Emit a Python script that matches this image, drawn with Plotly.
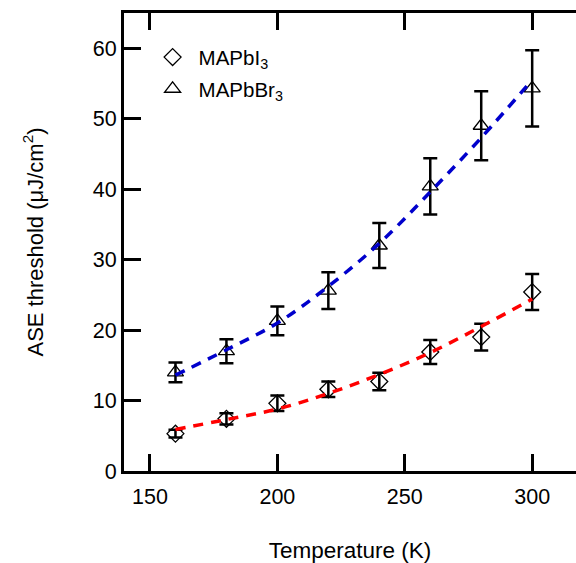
import plotly.graph_objects as go

# Temperature (K)
temperature = [160, 180, 200, 220, 240, 260, 280, 300]

# ASE threshold (uJ/cm^2) and uncertainties
mapbi3 = [5.3, 7.4, 9.6, 11.6, 12.7, 16.9, 19.0, 25.4]
mapbi3_err = [0.55, 0.8, 1.1, 1.1, 1.25, 1.7, 1.9, 2.55]
mapbbr3 = [14.0, 17.0, 21.3, 25.6, 32.0, 40.4, 49.0, 54.3]
mapbbr3_err = [1.4, 1.7, 2.05, 2.6, 3.2, 4.0, 4.9, 5.4]

# Fitted trend curves evaluated at the measured temperatures
fit_mapbi3 = [5.9, 7.3, 8.8, 11.0, 13.7, 16.8, 20.5, 24.4]
fit_mapbbr3 = [13.6, 17.2, 21.0, 26.2, 32.3, 39.6, 47.3, 55.5]

x_ticks = [150, 200, 250, 300]
y_ticks = [0, 10, 20, 30, 40, 50, 60]

FONT = "Liberation Sans, Arial, Helvetica, sans-serif"

fig = go.Figure()

fig.add_trace(go.Scatter(
    x=temperature, y=mapbi3, mode="markers", name="MAPbI<sub>3</sub>",
    legendgroup="i3",
    marker=dict(symbol="diamond-open", size=13, color="black", line=dict(width=1.3)),
    error_y=dict(type="data", array=mapbi3_err, color="black", thickness=2.5, width=7),
))
fig.add_trace(go.Scatter(
    x=temperature, y=mapbbr3, mode="markers", name="MAPbBr<sub>3</sub>",
    legendgroup="br3",
    marker=dict(symbol="triangle-up-open", size=14, color="black", line=dict(width=1.3)),
    error_y=dict(type="data", array=mapbbr3_err, color="black", thickness=2.5, width=7),
))
fig.add_trace(go.Scatter(
    x=temperature, y=fit_mapbi3, mode="lines", showlegend=False,
    line=dict(color="#ff0000", width=3.5, dash="10px,8px", shape="spline"),
))
fig.add_trace(go.Scatter(
    x=temperature, y=fit_mapbbr3, mode="lines", showlegend=False,
    line=dict(color="#0000cc", width=3.5, dash="10px,8px", shape="spline"),
))

fig.update_layout(
    width=576, height=563,
    margin=dict(l=124, r=0, t=13, b=92),
    paper_bgcolor="white", plot_bgcolor="white",
    font=dict(family=FONT, size=21, color="black"),
    showlegend=True,
    legend=dict(x=0.05, y=0.947, xanchor="left", yanchor="top",
                bgcolor="rgba(0,0,0,0)", font=dict(size=20.5), itemwidth=42,
                tracegroupgap=2),
    xaxis=dict(
        range=[139.8, 317.2], tickvals=x_ticks, ticks="inside", ticklen=17,
        tickwidth=3, tickcolor="black", showline=True, linewidth=3, linecolor="black",
        mirror="ticks", showgrid=False, zeroline=False,
        title=dict(text="Temperature (K)", font=dict(size=22.5), standoff=38),
        tickfont=dict(size=21.5), ticklabelstandoff=4,
    ),
    yaxis=dict(
        range=[0, 65], tickvals=y_ticks, ticks="inside", ticklen=17,
        tickwidth=3, tickcolor="black", showline=True, linewidth=3, linecolor="black",
        showgrid=False, zeroline=False,
        title=dict(text="ASE threshold (μJ/cm<sup>2</sup>)", font=dict(size=22), standoff=44),
        tickfont=dict(size=21.5),
    ),
    yaxis2=dict(
        range=[0, 65], overlaying="y", side="right", tickvals=y_ticks,
        ticks="inside", ticklen=10, tickwidth=3, tickcolor="black",
        showticklabels=False, showline=False, showgrid=False, zeroline=False,
    ),
)

fig.write_html("out.html")
